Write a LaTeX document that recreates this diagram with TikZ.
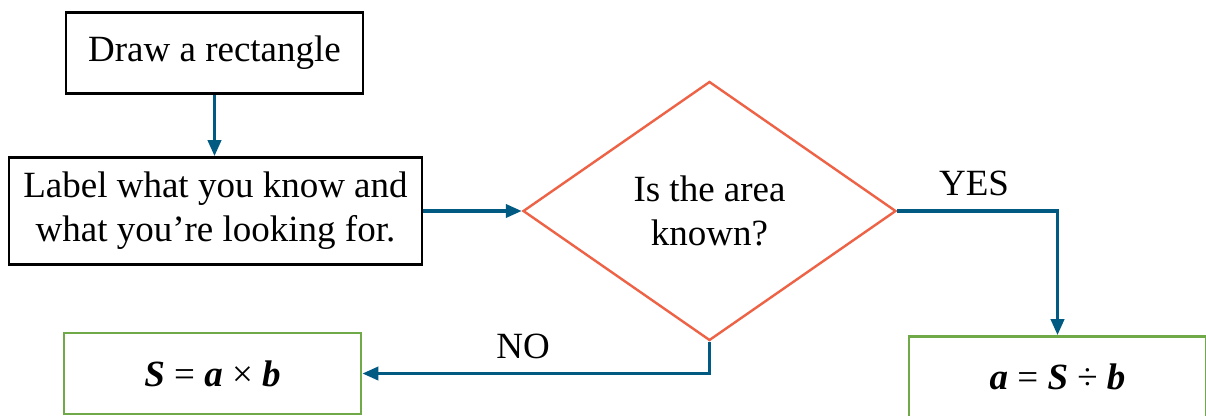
\documentclass[tikz,border=0pt]{standalone}
\usepackage{fontspec}
\setmainfont{Liberation Serif}
\usetikzlibrary{shapes.geometric,arrows.meta}
\definecolor{flowblue}{RGB}{0,90,130}
\definecolor{flowred}{RGB}{238,98,70}
\definecolor{flowgreen}{RGB}{112,170,72}
\tikzset{
  box/.style={draw=black, line width=2.6pt, rectangle, inner sep=0pt, align=center},
  resbox/.style={draw=flowgreen, line width=2.6pt, rectangle, inner sep=0pt, align=center},
  decide/.style={draw=flowred, line width=2.4pt, diamond, inner sep=0pt, align=center},
  conn/.style={draw=flowblue, line width=3.6pt, -{Triangle[length=16pt,width=13pt]}},
  lab/.style={inner sep=0pt, anchor=base}
}
\begin{document}
\begin{tikzpicture}[x=1pt,y=-1pt,font=\fontsize{37}{44}\selectfont]
\clip (0,0) rectangle (1206,415);
\fill[white] (0,0) rectangle (1206,415);
\node[box, minimum width=297pt, minimum height=81pt] (b1) at (214.5,53) {Draw a rectangle};
\node[box, minimum width=413pt, minimum height=107pt] (b2) at (215.5,211) {Label what you know and\\what you’re looking for.};
\node[decide, minimum width=373pt, minimum height=259pt] (d) at (709.5,211) {Is the area\\known?};
\node[resbox, minimum width=297pt, minimum height=81pt] (r1) at (212.5,373.5) {\textbf{\textit{S}} = \textbf{\textit{a}} × \textbf{\textit{b}}};
\node[resbox, minimum width=297pt, minimum height=81pt] (r2) at (1057.5,377) {\textbf{\textit{a}} = \textbf{\textit{S}} ÷ \textbf{\textit{b}}};
\draw[conn] (b1.south) -- (b1.south |- b2.north);
\draw[conn] (b2.east) -- (d.west);
\draw[conn] (d.east) -| (r2.north);
\draw[conn] (d.south) |- (r1.east);
\node[lab] (yes) at (974,195) {YES};
\node[lab] (no) at (523,358) {NO};
\end{tikzpicture}
\end{document}
